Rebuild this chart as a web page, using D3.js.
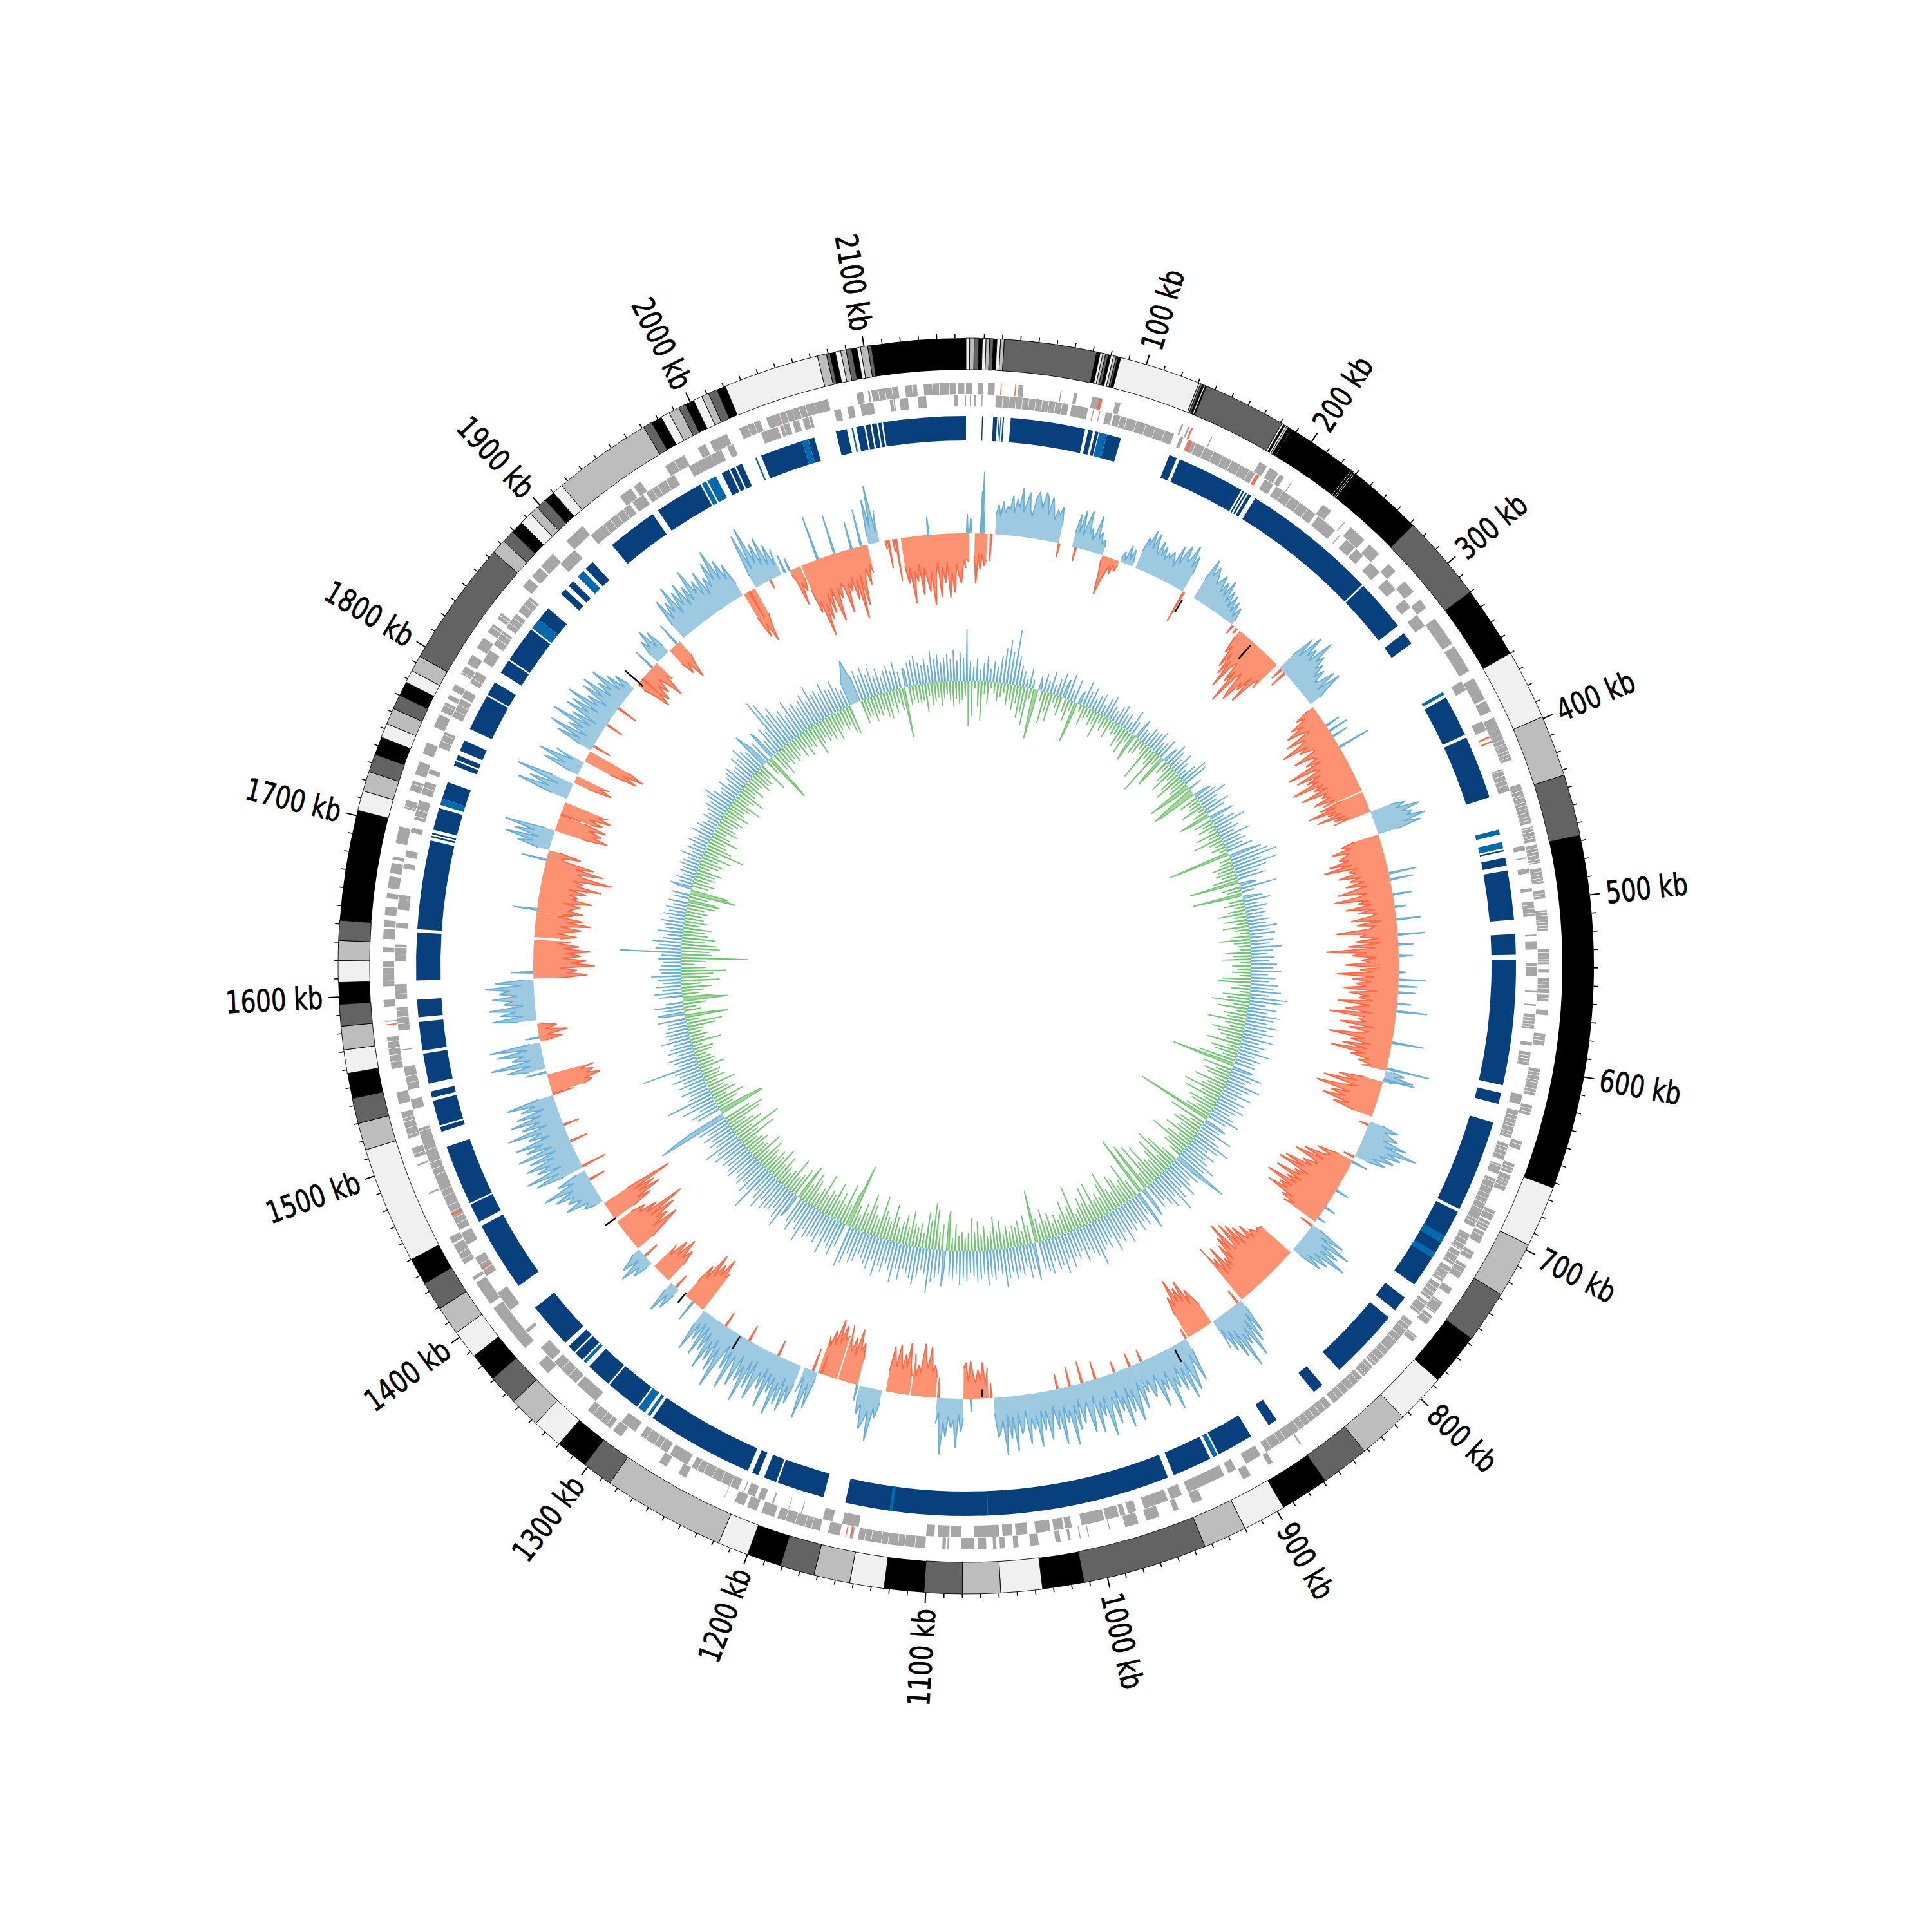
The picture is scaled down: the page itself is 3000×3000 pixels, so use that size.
<!DOCTYPE html>
<html><head><meta charset="utf-8">
<script src="https://cdn.jsdelivr.net/npm/d3@7/dist/d3.min.js"></script>
<style>html,body{margin:0;background:#fff}text{font-family:"DejaVu Sans Condensed","DejaVu Sans";font-stretch:condensed}</style>
</head><body><svg id="c" width="3000" height="3000"></svg>
<script>
const genomeKb=2156;
const tickLabels=[100,200,300,400,500,600,700,800,900,1000,1100,1200,1300,1400,1500,1600,1700,1800,1900,2000,2100];
const bandTones=["#000000","#636363","#bdbdbd","#f0f0f0"];
// [end kb, tone]
const bands=[[2,3],[4.5,2],[7,1],[9,0],[11,3],[13,2],[15,1],[17,0],[19,3],[21,2],[72,1],[74,0],[75.5,3],[77,2],[78.5,1],[80,0],[81.5,3],[83,2],[84,1],[85.5,0],[130.5,3],[131.5,2],[132.5,1],[133.5,0],[134.3,3],[135,0],[181,1],[182,3],[183,0],[184,3],[185,2],[187,0],[226.5,0],[227,3],[228,0],[228.5,3],[229,0],[229.5,3],[272,0],[320,1],[360,0],[399,3],[433,2],[467,1],[663,0],[697,3],[728,2],[757,1],[786,0],[814,3],[842,2],[869,1],[896,0],[920,3],[944,2],[1013,1],[1036,0],[1059,3],[1080,2],[1101,1],[1123,0],[1142,3],[1162,2],[1181,1],[1200,0],[1217,3],[1285,2],[1302,1],[1320,0],[1337,3],[1354,2],[1371,1],[1387,0],[1403,3],[1419,2],[1435,1],[1450,0],[1515,3],[1530,2],[1544,1],[1558,0],[1571,3],[1584,2],[1596,1],[1608,0],[1620,3],[1631,2],[1642,1],[1703,0],[1714,3],[1725,2],[1735,1],[1745,0],[1753,3],[1762,2],[1770,1],[1778,0],[1785,3],[1794,2],[1864,1],[1872,2],[1879,1],[1886,0],[1893,3],[1898,2],[1904,1],[1910,0],[1916,3],[1971,2],[1976,1],[1982,0],[1987,3],[1993,2],[1997,1],[2002,0],[2007,3],[2011,2],[2016,1],[2021,0],[2074,3],[2079,2],[2081,1],[2084,0],[2087,3],[2090,2],[2093,1],[2096,0],[2098,3],[2102,2],[2104,1],[2156,0]];
const genesOuter=[[2100,2116],[2120,2127],[2131,2150],[2151,2155],[0,3.5],[7,10],[13,17],[31,34],[56,56.6],[64,66],[75,79],[89,92],[130,131],[134,135],[149,149.6],[181,186],[188,194],[195,198],[203,203.5],[226,232],[242,242.6],[247,258],[262,270],[278,284],[292,300],[306,312],[320,338],[340,357],[362,376],[377,384],[388,395],[395,399],[399,415],[430,432],[432,454],[456,465],[467,478],[481,490],[494,499],[506,518],[529,538],[541,543],[546,555],[556,560],[565,568],[579,586],[600,610],[610,616],[622,628],[644,649],[658,664],[665,675],[688,694],[695,701],[702,709],[715,720],[724,733],[740,744],[750,758],[760,766],[775,779],[868,869],[903,908],[888,891],[935,941],[950,953],[962,970],[975,983],[992,992.6],[1005,1005.6],[1010,1010.6],[1016,1017.5],[1022,1025],[1035,1040],[1047,1050],[1055,1058],[1060,1062],[1066,1071],[1073,1081],[1088,1089],[1090,1092],[1102,1142],[1145,1147],[1153,1160],[1165,1191],[1193,1201],[1204,1210],[1212,1218],[1224,1224.6],[1250,1255],[1263,1268],[1295,1301],[1303,1320],[1352,1360],[1372,1385],[1385,1402],[1405,1420],[1422,1424],[1433,1446],[1447,1451],[1479,1480],[1497,1498],[1502,1508],[1514,1530],[1535,1542],[1556,1575],[1584,1584.6],[1593,1597],[1605,1620],[1625,1628],[1633,1639],[1640,1644],[1647,1652],[1657,1660],[1663,1670],[1672,1678],[1680,1682],[1690,1700],[1711,1716],[1722,1728],[1732,1740],[1745,1752],[1762,1770],[1772,1778],[1780,1783],[1786,1790],[1797,1802],[1804,1810],[1815,1822],[1826,1832],[1836,1840],[1860,1866],[1868,1875],[1876,1886],[1897,1910],[1938,1946],[1948,1953],[1970,1983],[1992,1997],[2000,2011],[2019,2032],[2036,2052],[2052,2066],[2066,2074],[2091,2095],[2098,2099]];
const genesInner=[[2118,2121],[2127,2131],[2150,2150.6],[2155.5,2156],[2.3,3],[5,6],[9,10],[18,62],[64,74],[77,77.6],[81,81.6],[85,89],[90,128],[132,134],[137,182],[189,195],[197,226],[228,241],[245,245.6],[250,257],[258,264],[270,278],[284,292],[300,306],[312,320],[360,366],[387,393],[418,432],[466,469],[473,474],[480,483],[492,494],[500,509],[520,521],[524,529],[537,545],[554,555],[562,563],[568,577],[585,587],[591,599],[617,623],[627,644],[648,658],[661,667],[670,692],[692,702],[707,718],[719,728],[730,740],[742,753],[755,764],[770,779],[778,788],[788,805],[806,814],[815,838],[840,870],[870,888],[892,902],[909,914],[917,941],[945,952],[954,969],[974,979],[981,984],[985,993],[994,1008],[1014,1018],[1019,1025],[1027,1036],[1041,1048],[1050,1056],[1058,1073],[1081,1087],[1088,1095],[1097,1102],[1143,1153],[1159,1165],[1178,1178.6],[1186,1186.6],[1196,1197],[1202,1206],[1208,1213],[1215,1215.6],[1219,1250],[1253,1265],[1267,1286],[1290,1300],[1320,1335],[1336,1354],[1356,1366],[1378,1380],[1395,1408],[1420,1433],[1442,1450],[1452,1470],[1470,1485],[1484,1500],[1500,1510],[1508,1518],[1530,1536],[1542,1556],[1566,1566.6],[1578,1592],[1597,1606],[1620,1630],[1640,1643],[1651,1657],[1657,1660],[1676,1679],[1683,1687],[1698,1701],[1706,1718],[1722,1730],[1735,1738],[1752,1762],[1772,1784],[1785,1790],[1795,1803],[1810,1818],[1822,1832],[1835,1845],[1847,1858],[1885,1897],[1910,1916],[1916,1940],[1942,1950],[1952,1972],[1982,1988],[1988,1997],[1997,2004],[2008,2012],[2030,2040],[2042,2048],[2050,2054],[2056,2062],[2076,2080],[2084,2088],[2092,2100],[2110,2113],[2116,2119],[2128,2132],[2149,2151]];
const genesRedOuter=[[20.5,21],[29,29.6],[79,81],[136,137],[1146,1146.6],[1149,1149.6],[1582,1582.6]];
const genesRedInner=[[138,139.5],[183,185],[397,398],[400,401],[1425,1425.6],[1462,1463],[2040,2040.5]];
// light gaps between neighbouring genes
const geneSeams=[402,404.5,406,409,411,413,419,422,425,428,434,436.5,438,441,443,445,447.5,450,452,457,459,461.5,463,469,471,473,475.5,477,483,485,487,488.5,496,497.5,502,504,507,509,511.5,513,515,516.5,531,533,535,536.5,539,548,550,552,558,570,572,574,575.5,581,583,593,595,597,602,604,606.5,608,612,614,624,626,630,632.5,635,637,640,642,646,650,652,655,660,662,668,670,672,676,680,683,686,690,697,699,704,711,714,717,722,726,729,733,736,738,745,748,751,757,762,773,776,781,785,792,796,800,803,808,812,818,822,826,830,834,844,848,852,856,860,864,874,878,884,1108,1114,1118,1124,1128,1134,1138,1170,1174,1180,1186,1224,1230,1236,1242,1246,1272,1276,1282,1306,1310,1316,1342,1348,1424,1428,1436,1440,1456,1460,1464,1468,1474,1478,1488,1492,1496,1504,1516,1520,1524,1526,1546,1550,1560,1564,1568,1572,1582,1586,1590,1600,1603,1608,1612,1616,1624,1628,1708,1712,1726,1756,1760,1776,1780,1798,1826,1830,1838,1842,1852,1856,1920,1925,1930,1935,1956,1960,1966,1976,2024,2028,2044,2048,2056,2060,2104,2108,2112,2124,2136,2140,2146,22,26,30,34,38,42,46,50,54,58,94,98,104,110,116,122,142,148,154,160,166,172,178,202,208,214,220];
const codingBlocks=[[2104,2156],[10,10.6],[17,19.5],[20.5,21],[23,23.8],[28,75],[77,80],[81.5,83.5],[89,98],[130,135],[137,180],[181,182],[183,184],[185,187],[190,276],[277,310],[316,324],[364,390],[392,432],[466,467],[471,476],[479,510],[519,532],[535,614],[619,626],[638,696],[698,751],[761,771],[777,822],[836,843],[872,878],[891,914],[920,945],[949,1154],[1168,1198],[1199,1207],[1211,1215],[1218,1286],[1298,1320],[1321,1337],[1343,1349],[1350,1355],[1358,1387],[1404,1448],[1451,1463],[1464,1502],[1512,1515],[1516,1532],[1534,1538],[1543,1562],[1564,1582],[1585,1596],[1608,1638],[1640,1696],[1698,1699],[1700,1701],[1703,1717],[1723,1734],[1745,1748],[1749,1752],[1755,1762],[1770,1793],[1794,1803],[1810,1819],[1820,1843],[1851,1860],[1872,1876],[1879,1883],[1894,1900],[1916,1948],[1952,1983],[1998,2003],[2004,2007],[2008,2012],[2025,2052],[2056,2060],[2074,2081],[2087,2092],[2093,2096],[2097,2100],[2101,2103]];
const codingAccents=[[84,89],[21.5,22],[360,362],[453,456],[461,465],[715,720],[727,731],[915,918],[1064,1064.6],[1124,1126],[1288,1290],[1292,1297],[1340,1342],[1719,1723],[1844,1851],[1887,1892],[1984,1987],[1988,1994],[2021,2022],[2052,2056],[2084,2085]];
// skew blocks: [start kb, end kb, values] positive = outward (blue), negative = inward (orange)
const skewBlocks=[
[23,74,[30,46,28,52,34,44,40,62,36,58,44,76,38,52,70,42,34,64,72,60,48,74,66,40,68,52,34,50,44,56,30]],
[85,110,[22,52,24,60,20,42,62,26,36,18,30,58,22,34,16,24,14]],
[110,124,[-8,-30,-62,-38,-26,-12,-24,-8,-18,-6]],
[125,135,[6,18,4,30,8,26,6]],
[138,180,[28,52,40,66,38,64,42,32,55,34,50,30,42,36,48,40,26,62,34,56,68,44,50,74,40,60,30]],
[190,227,[34,70,44,62,52,38,46,56,30,50,28,56,22,44,18,40,14,34,10,28,8]],
[235,275,[-12,-40,-26,-62,-34,-72,-44,-92,-50,-40,-76,-52,-108,-60,-48,-84,-96,-58,-72,-42,-88,-46,-38,-52]],
[278,316,[28,66,34,78,44,60,40,84,48,62,40,52,30,48,26,34,58,22,62,36,18]],
[319,396,[-10,-34,-20,-50,-30,-62,-38,-26,-70,-40,-48,-84,-42,-58,-38,-36,-74,-44,-40,-60,-36,-96,-52,-44,-86,-48,-72,-54,-100,-50,-68,-46,-92,-52,-60,-48,-78,-44,-66]],
[397,414,[-36,-72,-46,-94,-50,-64,-42,-84,-38,-58,-34,-60]],
[414,433,[34,55,40,76,46,62,52,80,44,70,30]],
[433,623,[-40,-62,-46,-78,-52,-60,-70,-56,-88,-52,-98,-46,-60,-50,-78,-44,-62,-40,-70,-36,-60,-84,-38,-50,-92,-38,-56,-34,-76,-30,-58,-28,-42,-70,-24,-62,-32,-44,-96,-48,-58,-30,-66,-26,-78,-36,-112,-50,-72,-34,-58,-44,-84,-30,-60,-40,-96,-38,-72,-42,-66,-50,-86,-32,-76,-44,-60,-38,-92,-42,-62,-80,-36,-104,-48,-58,-44,-86,-30,-70,-38,-56,-100,-42,-64,-30,-76,-36,-92,-38,-60,-28,-46,-24,-40]],
[623,632,[12,30,14,46,18,10]],
[632,661,[-30,-70,-40,-92,-35,-60,-100,-45,-75,-50,-85,-40,-65,-28]],
[665,695,[20,48,28,38,52,30,70,36,90,44,68,34,60,26,50,20]],
[699,756,[-24,-58,-34,-44,-76,-40,-88,-56,-46,-70,-52,-96,-62,-104,-50,-72,-60,-100,-54,-78,-58,-108,-62,-82,-66,-98,-52,-68,-44,-60]],
[759,784,[14,60,22,78,30,64,34,84,30,58,24,52,14]],
[787,841,[-60,-62,-64,-60,-66,-72,-58,-86,-62,-70,-92,-60,-102,-66,-110,-72,-64,-118,-70,-98,-56,-86,-50,-66,-46,-92,-42,-76,-60,-102]],
[842,870,[12,58,20,70,28,90,36,64,42,98,30,76,26,60,18,50]],
[871,893,[-34,-50,-66,-42,-86,-52,-78,-56,-96,-50,-70,-40]],
[895,941,[18,70,24,54,80,30,90,36,72,30,62,44,94,28,58,38,82,26,46,60,30,48,24]],
[941,1056,[36,72,26,58,86,34,68,28,90,38,62,26,78,34,52,94,30,60,36,84,24,52,80,30,40,62,22,70,30,92,36,56,28,88,32,62,24,48,76,30,60,28,84,34,56,38,78,24,50,60,26,86,32,66,28,90,36,52,62,24]],
[1060,1080,[-46,-20,-56,-28,-44,-24,-36,-58,-26,-56,-48]],
[1080,1101,[30,52,24,76,34,46,28,60,38,88,22,40]],
[1102,1122,[-32,-50,-40,-78,-44,-56,-82,-36,-48,-30,-64]],
[1123,1142,[-30,-46,-80,-42,-62,-38,-56,-76,-40,-54,-70,-32]],
[1145,1163,[20,44,30,82,36,54,66,28,44,16]],
[1165,1181,[-40,-66,-52,-86,-44,-70,-48,-60,-88]],
[1182,1198,[-70,-62,-84,-54,-92,-50,-72,-44,-60]],
[1198,1209,[10,60,22,80,14,40]],
[1212,1301,[30,64,36,80,26,72,38,92,32,60,30,88,24,62,34,56,84,22,70,26,96,38,66,24,78,46,32,90,28,62,22,52,100,34,76,24,64,32,82,22,56,16,68,14,46,20,70,24]],
[1302,1320,[-70,-60,-90,-58,-76,-50,-88,-42,-62,-30]],
[1327,1335,[12,40,18,52,14]],
[1338,1354,[-34,-58,-40,-72,-38,-62,-30,-48]],
[1357,1372,[10,34,18,50,12,40,22,12]],
[1373,1400,[-28,-60,-84,-40,-72,-52,-90,-48,-110,-46,-68,-36,-50,-28]],
[1403,1418,[-36,-70,-48,-92,-56,-86,-50,-118,-42]],
[1420,1448,[12,30,20,56,26,48,34,64,30,78,24,50,14]],
[1451,1513,[34,78,38,90,30,68,44,82,34,72,26,88,30,70,42,84,26,60,36,90,24,64,32,78,28,66,20,56,32,76,24]],
[1515,1530,[-50,-66,-56,-80,-60,-72,-52,-74]],
[1535,1556,[26,60,22,84,20,48,30,70,22,80,16]],
[1557,1571,[-10,-36,-14,-46,-12,-30,-8]],
[1574,1606,[30,68,20,56,30,72,18,48,34,66,26,54,38,76,20,60,14]],
[1607,1638,[-40,-84,-52,-68,-42,-96,-58,-82,-44,-74,-50,-88,-46,-70,-36,-58]],
[1640,1660,[-40,-66,-34,-52,-72,-38,-86,-46,-74,-34,-56]],
[1660,1710,[-40,-72,-48,-56,-66,-40,-84,-50,-60,-46,-72,-44,-94,-54,-64,-48,-108,-62,-52,-92,-48,-76,-28,-22,-52,-18]],
[1710,1726,[18,52,28,74,20,62,30,78,16]],
[1726,1739,[-44,-84,-60,-72,-50,-76,-40]],
[1740,1750,[-50,-68,-44,-78,-56,-72]],
[1753,1766,[26,84,34,68,22,92,36]],
[1767,1773,[-24,-62,-40,-56]],
[1774,1785,[14,60,26,72,18,48]],
[1786,1795,[-44,-88,-64,-96,-70]],
[1796,1856,[18,62,24,78,16,52,28,84,20,56,14,72,34,66,22,80,28,50,16,64,30,70,20,48,26,66,16,44,12,34,10]],
[1860,1883,[-14,-30,-58,-36,-52,-26,-44,-20,-36,-60,-24,-34]],
[1884,1896,[16,40,24,54,18,44,12]],
[1897,1908,[-28,-50,-34,-64,-40,-26]],
[1912,1970,[26,70,32,60,40,82,30,66,40,74,32,64,36,86,42,62,34,72,28,56,38,76,44,92,40,70,34,58,20]],
[1971,1981,[-42,-78,-56,-88,-60,-44]],
[1982,2005,[20,88,28,96,34,66,26,70,22,54,18,44]],
[2012,2021,[-8,-18,-60,-24,-40,-20]],
[2022,2077,[-40,-80,-62,-120,-70,-96,-56,-88,-48,-74,-104,-52,-70,-46,-58,-96,-50,-64,-42,-80,-48,-112,-40,-92,-50,-36,-62,-30,-44]],
[2078,2087,[12,70,24,90,16,50]],
[2104,2156,[-44,-72,-48,-104,-54,-70,-44,-92,-50,-68,-88,-56,-110,-62,-44,-98,-52,-76,-44,-100,-60,-92,-48,-66,-78,-42,-54]],
[0,2.5,[-40,-44]],
[7,17,[-36,-78,-30,-56,-32,-50,-40]]
];
// single spikes [kb, value] drawn over the opposite-signed blocks
const skewSpikes=[[1,30],[4,22],[3.5,24],[12,66],[14,34],[13,96],[20,-42],[74.5,-22],[88,-22],[181,-52],[228,-16],[280,-20],[284,-28],[232,-10],[337,24],[342,32],[347,26],[357,52],[465,44],[470,36],[482,30],[492,18],[502,38],[514,42],[522,24],[531,22],[544,12],[550,42],[555,30],[560,28],[569,22],[575,48],[600,50],[621,68],[630,50],[668,-16],[696,-18],[700,26],[726,22],[742,18],[752,14],[760,-22],[845,-24],[895,-18],[935,-20],[945,-22],[958,-18],[974,-28],[985,-34],[995,-30],[1005,-24],[1058,-24],[1074,20],[1100,-32],[1165,26],[1195,-30],[1202,-36],[1232,-26],[1258,-26],[1280,-24],[1312,34],[1330,-24],[1365,-26],[1440,-26],[1452,-40],[1474,-28],[1488,-26],[1514,-34],[1532,34],[1560,22],[1612,34],[1662,36],[1702,40],[1740,-32],[1800,-30],[1820,-28],[1836,-34],[1866,-34],[1878,34],[1905,38],[1976,-48],[1995,-14],[2012,22],[2008,30],[2036,70],[2050,62],[2064,44],[2072,58],[2092,-14],[2094,-44],[2098,-20],[2100,-66],[2126,28]];
const skewBlack=[[183,-12,-34],[249,-6,-34],[1065,-2,-14],[907,6,28],[1266,2,24],[1321,-4,16],[1403,-2,18],[1862,-8,28]];
// deviation track, 60 kb per row, positive = outward (blue), negative = inward (green)
const devRows=[
[80,-70,30,-55,22,-12,35,-40,18,-62,28,-20,40,-35,20,-10,32,-18,25,-30,42,-22,55,-15,68,-34,50,-25,85,-40],
[45,-28,32,-50,24,-42,12,-60,30,-18,14,-34,-78,-40,22,10,-16,28,-50,18,-30,34,-45,16,-12,26,-20,38,-30,20],
[30,-22,42,-34,18,-16,36,-65,-40,14,22,-12,40,-30,26,-18,34,-14,20,-25,28,-20,32,-40,18,-14,30,-24,36,-16],
[24,-30,18,-14,28,-20,34,-16,22,-35,26,-24,16,-40,38,-18,22,-30,-46,14,32,-28,20,-24,18,-12,30,-18,26,-60],
[28,-20,36,-26,20,-74,24,-18,34,-40,-54,16,26,-22,38,-14,30,-30,20,-44,36,-18,24,-34,14,-48,28,-22,44,-30],
[40,-71,-50,-26,22,-14,-50,-74,-60,16,28,-32,34,-18,48,-22,30,-38,26,-12,42,-24,32,-50,-30,16,40,-30,22,-20],
[36,-28,50,-14,26,-36,34,-18,24,-46,48,-22,30,-16,36,-24,28,-12,44,-98,-40,30,52,-18,60,-20,73,-34,46,-26],
[70,-32,50,-24,36,-40,44,-78,-40,18,26,-30,57,-22,20,-79,-30,14,30,-24,42,-32,22,-18,34,-28,26,-44,30,-20],
[24,-36,34,-18,28,-40,44,-22,32,-14,40,-30,20,-48,36,-26,30,-20,48,-16,34,-40,24,-28,36,-46,28,-18,40,-30],
[34,-22,46,-30,26,-18,38,-44,28,-50,42,-20,36,-30,48,-16,30,-42,59,-34,50,-58,26,-24,44,-46,30,-18,52,-36],
[42,-30,34,-60,50,-32,36,-24,46,-50,30,-40,48,-34,28,-26,40,-54,32,-20,51,-44,26,-36,38,-22,30,-58,34,-100],
[-50,32,30,-48,50,-24,36,-42,28,-34,54,-20,40,-52,30,-28,48,-36,26,-62,42,-30,34,-56,46,-22,36,-44,28,-38],
[38,-26,50,-42,32,-120,-40,28,36,-60,30,-22,54,-38,28,-46,40,-30,62,-34,46,-50,30,-24,48,-40,36,-66,44,-32],
[60,-36,48,-22,90,60,36,-28,50,-54,38,-70,44,-26,58,-60,36,-44,52,-30,70,-34,40,-64,54,-38,46,-72,32,-24],
[42,-80,-50,34,48,-98,-46,38,64,-28,34,-60,50,-36,42,-30,53,-44,36,-52,46,-26,40,-34,60,-66,38,-50,52,-30],
[44,-38,61,-30,36,-60,50,-26,42,-58,48,-34,70,-44,52,-30,46,-22,38,-70,54,-40,34,-28,46,-50,40,-32,56,-24],
[40,-34,60,-22,46,-40,50,-30,36,-48,54,-28,49,-36,44,-82,-38,26,58,-30,40,-46,52,-22,34,-40,46,-30,42,-34],
[50,-26,38,-36,46,-24,60,-44,40,-28,34,-52,46,-30,42,-22,54,-38,36,-26,44,-46,48,-30,40,-52,34,-28,46,-20],
[42,-30,52,-24,36,-42,46,-20,40,-62,-48,34,56,-40,38,-28,44,-62,50,-72,69,-44,40,-56,34,-24,46,-38,60,-30],
[50,-36,44,-54,38,-28,56,-46,40,-34,62,-24,46,-40,36,-58,50,-30,42,-36,60,-44,38,-66,52,-28,46,-34,40,-48],
[36,-62,48,-30,52,-44,40,-24,58,-36,66,-101,-60,-50,38,-32,54,-64,46,-28,40,-44,60,-30,36,-56,48,-34,42,-38],
[44,-28,50,-60,38,-34,62,-24,46,-42,36,-52,54,-30,42,-57,-40,26,40,-46,62,-34,50,-28,38,-54,44,-30,46,-22],
[52,-30,40,-44,58,-26,46,-50,36,-34,74,-40,44,-28,54,-36,38,-46,48,-24,42,-51,36,-30,50,-26,44,-38,40,-32],
[46,-24,38,-60,52,-34,42,-76,60,-30,36,-50,44,-40,38,-28,48,-56,36,-66,50,-44,113,90,60,-73,-70,-40,38,-26],
[44,-36,30,-50,54,-22,38,-40,75,-30,36,-24,30,-46,44,-20,28,-34,42,-26,32,-30,48,-18,34,-42,40,-24,90,-30],
[30,-24,36,-18,44,-28,26,-32,40,-16,34,-48,28,-22,46,-30,32,-20,38,-24,36,-44,30,-56,28,-20,44,-67,-38,30],
[42,-26,34,-20,46,-36,28,-70,-50,-40,36,-26,44,-34,30,-48,40,-30,28,-60,36,-44,46,-50,30,-70,34,-40,30,-20],
[28,-40,36,-105,30,-48,95,-44,40,-60,34,-56,46,-36,30,-52,24,-40,38,-34,28,-44,30,-26,36,-38,24,-30,34,-28],
[26,-34,32,-28,22,-44,30,-50,-40,24,-30,28,-73,-50,-60,20,34,-26,22,-36,28,-24,18,-32,26,-30,22,-40,30,-20],
[26,-32,20,-38,34,-28,18,-46,28,-24,22,-62,30,-40,24,-30,18,-26,34,-44,22,-28,30,-20,24,-36,16,-30,28,-24],
[22,-30,26,-36,34,-22,30,-40,38,-28,46,-26,34,-32,24,-48,28,-24,36,-30,22,-44,30,-26,34,-22,40,-34,28,-20],
[30,-24,44,-34,36,-28,50,-30,40,-22,34,-48,60,44,36,-26,36,-79,-60,50,40,-30,28,-42,46,-24,36,-32,88,-26],
[80,-34,56,-28,64,-20,44,-36,50,-24,36,-40,58,-26,42,-32,48,-22,38,-50,44,-34,52,-26,38,-36,60,-30,42,-38],
[46,-28,38,-44,52,-30,40,-26,36,-34,48,-30,34,-42,28,-46,40,44,52,60,70,48,38,-38,48,-30,40,-28,50,-40],
[36,-30,44,-34,30,-26,40,-38,26,-42,34,-24,40,-36,30,-22,44,-34,26,-78,-32,30,26,-30,36,-22,40,-28,46,-30],
[34,-26,30,-44,40,-20,28,-34,50,-30,36,-24,44,-38,30,-26,38,-20,42,-30,34,-40,48,-28,32,-36,44,-30,36,-24]
];
const C=1500,R={bandOut:975,bandIn:926,tick:982,tickMajor:991,label:1000,g1o:906,g1i:888,g2o:887,g2i:869,ringO:854,ringI:816,skew0:672,dev0:443};
const svg=d3.select("#c");
const root=svg.append("g").attr("transform",`translate(${C},${C})`);
const angle=d3.scaleLinear().domain([0,genomeKb]).range([0,2*Math.PI]);
const skewR=d3.scaleLinear().domain([0,100]).range([R.skew0,R.skew0+100]);
const devR=d3.scaleLinear().domain([0,100]).range([R.dev0,R.dev0+100]);
const arc=d3.arc();
function span(g,list,ri,ro,color){
  g.selectAll(null).data(list).join("path").attr("fill",color)
   .attr("d",d=>arc({innerRadius:ri,outerRadius:ro,startAngle:angle(d[0]),endAngle:angle(d[1])}));
}
// gene rows
const gG=root.append("g");
span(gG,genesOuter,R.g1i,R.g1o,"#a6a6a6");
span(gG,genesInner,R.g2i,R.g2o,"#a6a6a6");
span(gG,geneSeams.map(k=>[k,k+.28]),R.g2i-1,R.g1o+1,"#ffffff");
span(gG,genesRedOuter,R.g1i,R.g1o,"#fb6a4a");
span(gG,genesRedInner,R.g2i,R.g2o,"#fb6a4a");
// coding ring
const gR=root.append("g");
span(gR,codingBlocks,R.ringI,R.ringO,"#08407e");
span(gR,codingAccents,R.ringI,R.ringO,"#0868ac");
// shape drawing
function shape(g,pts,r,r0,fill,stroke,w){
  const area=d3.areaRadial().angle(d=>angle(d[0])).innerRadius(r0).outerRadius(d=>r(d[1]));
  const line=d3.lineRadial().angle(d=>angle(d[0])).radius(d=>r(d[1]));
  g.append("path").attr("d",area(pts)).attr("fill",fill);
  g.append("path").attr("d",line(pts)).attr("fill","none").attr("stroke",stroke).attr("stroke-width",w).attr("stroke-linejoin","miter").attr("stroke-miterlimit",3);
}
const palette={blue:["#9ecae1","#6baed6"],orange:["#fc9272","#fb6a4a"],green:["#a1d99b","#74c476"]};
const gS=root.append("g");
skewBlocks.forEach(([a,b,vals])=>{
  const pts=vals.map((v,i)=>[a+(b-a)*i/(vals.length-1),v]);
  const c=vals[0]>0?palette.blue:palette.orange;
  shape(gS,pts,skewR,R.skew0,c[0],c[1],2);
});
skewSpikes.forEach(([k,v])=>{
  const c=v>0?palette.blue:palette.orange;
  shape(gS,[[k-.6,0],[k,v],[k+.6,0]],skewR,R.skew0,c[0],c[1],2);
});
gS.selectAll(null).data(skewBlack).join("path").attr("stroke","#000").attr("stroke-width",2.5)
  .attr("d",d=>d3.lineRadial()([[angle(d[0]),skewR(d[1])],[angle(d[0]),skewR(d[2])]]));
// deviation track: thin spikes, only neighbouring same-sign bins merge into a band
const gD=root.append("g");
const devPts=[];
devRows.forEach((row,i)=>{const w=i==35?56:60;row.forEach((v,j)=>devPts.push([i*60+(j+.5)/row.length*w,v]));});
function runsOf(test,c){
  let cur=null;
  const flush=()=>{cur.push([cur[cur.length-1][0]+.6,0]);shape(gD,cur,devR,R.dev0,c[0],c[1],1.7);cur=null;};
  devPts.forEach(p=>{
    if(test(p[1])){
      if(!cur)cur=[[p[0]-.6,0]];
      cur.push(p);
    }else if(cur)flush();
  });
  if(cur)flush();
}
runsOf(v=>v>0,palette.blue);
runsOf(v=>v<0,palette.green);
// ideogram
const gI=root.append("g");
let prev=0;
bands.forEach(([end,tone])=>{
  gI.append("path").attr("d",arc({innerRadius:R.bandIn,outerRadius:R.bandOut,startAngle:angle(prev),endAngle:angle(end)}))
    .attr("fill",bandTones[tone]).attr("stroke","#000").attr("stroke-width",tone==0?0:.9);
  prev=end;
});
// ticks + labels
const gT=root.append("g");
d3.range(10,genomeKb,10).forEach(k=>{
  const a=angle(k)-Math.PI/2,major=k%100==0;
  gT.append("line").attr("x1",R.bandOut*Math.cos(a)).attr("y1",R.bandOut*Math.sin(a))
    .attr("x2",(major?R.tickMajor:R.tick)*Math.cos(a)).attr("y2",(major?R.tickMajor:R.tick)*Math.sin(a))
    .attr("stroke","#000").attr("stroke-width",major?2:1.6);
});
tickLabels.forEach(k=>{
  const deg=angle(k)*180/Math.PI,left=deg>180;
  gT.append("text").text(k+" kb").attr("font-size",48).attr("fill","#000")
    .attr("stroke","#000").attr("stroke-width",.7)
    .attr("dominant-baseline","central").attr("text-anchor",left?"end":"start")
    .attr("transform",`rotate(${deg-90}) translate(${R.label},0)`+(left?" rotate(180)":"")+" scale(.86,1)");
});
</script></body></html>
